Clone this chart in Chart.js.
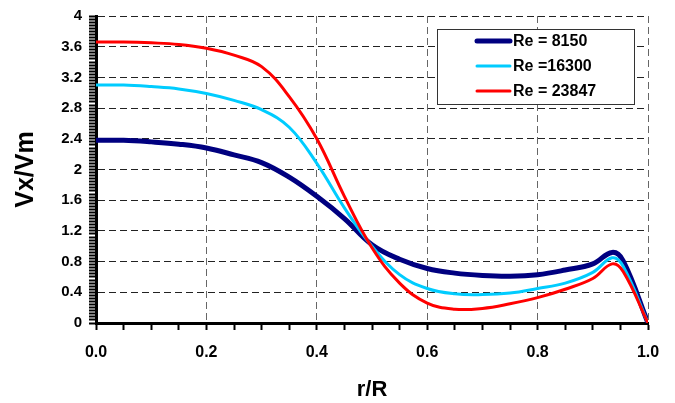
<!DOCTYPE html>
<html>
<head>
<meta charset="utf-8">
<script src="https://cdn.jsdelivr.net/npm/chart.js@4.4.1/dist/chart.umd.min.js"></script>
<style>
  html, body { margin: 0; padding: 0; background: #fff; }
  #wrap { width: 675px; height: 403px; }
</style>
</head>
<body>
<div id="wrap"><canvas id="chart" width="675" height="403"></canvas></div>
<script>
// Posições radiais (r/R)
const rR = [0, 0.05, 0.1, 0.15, 0.2, 0.25, 0.3, 0.35, 0.4, 0.45, 0.5, 0.55, 0.6, 0.65, 0.7, 0.75, 0.8, 0.85, 0.9, 0.935, 0.955, 1.0];

// Perfis de velocidade Vx/Vm
const re8150  = [2.38, 2.38, 2.36, 2.33, 2.28, 2.19, 2.09, 1.90, 1.65, 1.36, 1.02, 0.83, 0.71, 0.65, 0.62, 0.61, 0.63, 0.69, 0.77, 0.92, 0.81, 0];
const re16300 = [3.10, 3.10, 3.08, 3.05, 2.99, 2.90, 2.78, 2.55, 2.08, 1.50, 1.00, 0.63, 0.45, 0.38, 0.37, 0.39, 0.45, 0.52, 0.66, 0.85, 0.74, 0];
const re23847 = [3.66, 3.66, 3.65, 3.63, 3.58, 3.49, 3.34, 2.95, 2.40, 1.65, 0.98, 0.52, 0.26, 0.18, 0.19, 0.25, 0.33, 0.44, 0.58, 0.77, 0.67, 0];

const seriesLabels = ['Re = 8150', 'Re =16300', 'Re = 23847'];

// Eixos
const xMin = 0, xMax = 1, xMajor = 0.2, xMinor = 0.05;
const yMin = 0, yMax = 4, yMajor = 0.4, yMinor = 0.04;

function isMultiple(v, step) {
    const q = v / step;
    return Math.abs(q - Math.round(q)) < 1e-6;
}

function toPoints(ys) {
    return rR.map((x, i) => ({ x: x, y: ys[i] }));
}

// Legenda desenhada à mão, com caixa
const boxLegend = {
    id: 'boxLegend',
    afterDraw(chart) {
        const ctx = chart.ctx;
        const left = 437, top = 29, w = 197, h = 75;
        ctx.save();
        ctx.fillStyle = '#fff';
        ctx.fillRect(left, top, w, h);
        ctx.strokeStyle = '#333';
        ctx.lineWidth = 1;
        ctx.strokeRect(left + 0.5, top + 0.5, w, h);
        ctx.font = 'bold 16px "Liberation Sans", Arial, sans-serif';
        ctx.textBaseline = 'middle';
        ctx.fillStyle = '#000';
        chart.data.datasets.forEach((ds, i) => {
            const y = top + 12 + i * 25;
            ctx.strokeStyle = ds.borderColor;
            ctx.lineWidth = ds.borderWidth;
            ctx.lineCap = 'round';
            ctx.beginPath();
            ctx.moveTo(477, y);
            ctx.lineTo(510, y);
            ctx.stroke();
            ctx.fillText(ds.label, 513, y + 1);
        });
        ctx.restore();
    }
};

const ctx = document.getElementById('chart').getContext('2d');
new Chart(ctx, {
    type: 'line',
    data: {
        datasets: [
            { label: seriesLabels[0], data: toPoints(re8150), borderColor: '#000080', borderWidth: 5, order: 3 },
            { label: seriesLabels[1], data: toPoints(re16300), borderColor: '#00CCFF', borderWidth: 3, order: 2 },
            { label: seriesLabels[2], data: toPoints(re23847), borderColor: '#FF0000', borderWidth: 3, order: 1 }
        ]
    },
    options: {
        responsive: false,
        animation: false,
        devicePixelRatio: 1,
        layout: { padding: { left: 0, right: 27, top: 14, bottom: 0 } },
        elements: {
            point: { radius: 0 },
            line: { tension: 0.4, fill: false, borderJoinStyle: 'round' }
        },
        plugins: {
            legend: { display: false },
            tooltip: { enabled: false }
        },
        scales: {
            x: {
                type: 'linear',
                min: xMin,
                max: xMax,
                ticks: {
                    stepSize: xMinor,
                    autoSkip: false,
                    maxRotation: 0,
                    padding: 13,
                    color: '#000',
                    font: { family: '"Liberation Sans", Arial, sans-serif', size: 16, weight: 'bold' },
                    callback: v => isMultiple(v, xMajor) ? v.toFixed(1) : ''
                },
                grid: {
                    color: c => (c.tick && isMultiple(c.tick.value, xMajor)) ? '#666' : 'rgba(0,0,0,0)',
                    lineWidth: 1,
                    tickColor: '#000',
                    tickWidth: 2,
                    tickLength: 7,
                    tickBorderDash: []
                },
                border: { display: true, color: '#000', width: 3, dash: [7, 4] },
                title: {
                    display: true,
                    text: 'r/R',
                    color: '#000',
                    padding: { top: 0, bottom: 0 },
                    font: { family: '"Liberation Sans", Arial, sans-serif', size: 22, weight: 'bold' }
                },
                afterFit: s => { s.height = 80; }
            },
            y: {
                type: 'linear',
                min: yMin,
                max: yMax,
                ticks: {
                    stepSize: yMinor,
                    autoSkip: false,
                    padding: 7,
                    color: '#000',
                    font: { family: '"Liberation Sans", Arial, sans-serif', size: 15, weight: 'bold' },
                    callback: v => isMultiple(v, yMajor) ? String(Math.round(v * 10) / 10) : ''
                },
                grid: {
                    color: c => (c.tick && isMultiple(c.tick.value, yMajor)) ? '#222' : 'rgba(0,0,0,0)',
                    lineWidth: 1,
                    tickColor: '#000',
                    tickWidth: 2,
                    tickLength: 7,
                    tickBorderDash: []
                },
                border: { display: true, color: '#000', width: 3, dash: [7, 4] },
                title: {
                    display: true,
                    text: 'Vx/Vm',
                    color: '#000',
                    padding: { top: 11, bottom: 0 },
                    font: { family: '"Liberation Sans", Arial, sans-serif', size: 25, weight: 'bold' }
                },
                afterFit: s => { s.width = 96; }
            }
        }
    },
    plugins: [boxLegend]
});
</script>
</body>
</html>
